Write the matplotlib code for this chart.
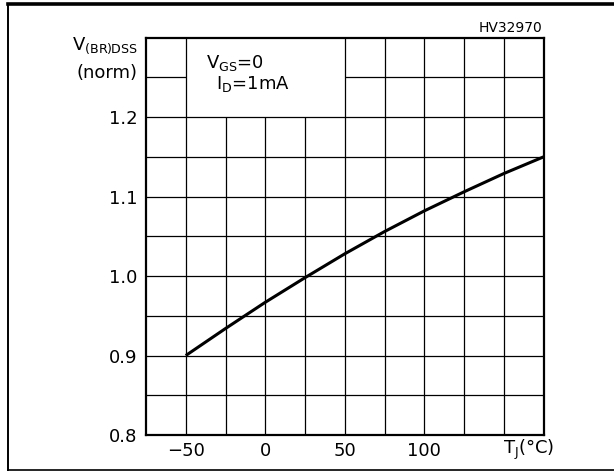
import matplotlib
matplotlib.use('Agg')
import matplotlib.pyplot as plt
from matplotlib.lines import Line2D

plt.rcParams['font.family'] = ['DejaVu Sans']
plt.rcParams['mathtext.default'] = 'regular'

# data
tj = [-50, -25, 0, 25, 50, 75, 100, 125, 150, 175]
vbr = [0.900, 0.934, 0.967, 0.998, 1.028, 1.056, 1.082, 1.106, 1.129, 1.150]

xticks = [-50, 0, 50, 100]
xticklabels = ['\u221250', '0', '50', '100']
yticks = [0.8, 0.9, 1.0, 1.1, 1.2]
yticklabels = ['0.8', '0.9', '1.0', '1.1', '1.2']

fig = plt.figure(figsize=(6.14, 4.71), dpi=100)
ax = fig.add_axes([146/614, 1-435/471, (543.5-146)/614, (435-37.7)/471])
ax.set_xlim(-75, 175)
ax.set_ylim(0.8, 1.3)

# grid, leaving the box for the conditions empty
gkw = dict(color='black', lw=0.9, zorder=1)
for x in [-50, 50, 75, 100, 125, 150]:
    ax.vlines(x, 0.8, 1.3, **gkw)
for x in [-25, 0, 25]:
    ax.vlines(x, 0.8, 1.2, **gkw)
for y in [0.85, 0.9, 0.95, 1.0, 1.05, 1.1, 1.15, 1.2]:
    ax.hlines(y, -75, 175, **gkw)
ax.hlines(1.25, -75, -50, **gkw)
ax.hlines(1.25, 50, 175, **gkw)

ax.plot(tj, vbr, color='black', lw=2.2, zorder=3, solid_capstyle='butt')

for s in ax.spines.values():
    s.set_linewidth(1.6)
ax.set_xticks(xticks)
ax.set_xticklabels(xticklabels)
ax.set_yticks(yticks)
ax.set_yticklabels(yticklabels)
ax.tick_params(length=0, labelsize=13)
ax.tick_params(axis='x', pad=5)
ax.tick_params(axis='y', pad=6)

# texts
fs = 13
fig.text(138/614, 1-50/471, r'V$_{(BR)DSS}$', ha='right', va='baseline', fontsize=fs)
fig.text(138/614, 1-73/471, '(norm)', ha='right', va='center', fontsize=fs)
fig.text(206/614, 1-63/471, r'V$_{GS}$=0', ha='left', va='center', fontsize=fs)
fig.text(216/614, 1-84/471, r'I$_{D}$=1mA', ha='left', va='center', fontsize=fs)
fig.text(542/614, 1-28/471, 'HV32970', ha='right', va='center', fontsize=10)
fig.text(503/614, 1-450/471, r'T$_{J}$(°C)', ha='left', va='center', fontsize=fs)

# outer frame (right side runs off the picture)
fig.add_artist(Line2D([7.5/614, 1.0], [1-4/471, 1-4/471], color='black', lw=2.6, transform=fig.transFigure))
fig.add_artist(Line2D([7.5/614, 1.0], [1.2/471, 1.2/471], color='black', lw=1.2, transform=fig.transFigure))
fig.add_artist(Line2D([7.5/614, 7.5/614], [1.2/471, 1-4/471], color='black', lw=1.4, transform=fig.transFigure))

fig.savefig('out.png', dpi=100)
